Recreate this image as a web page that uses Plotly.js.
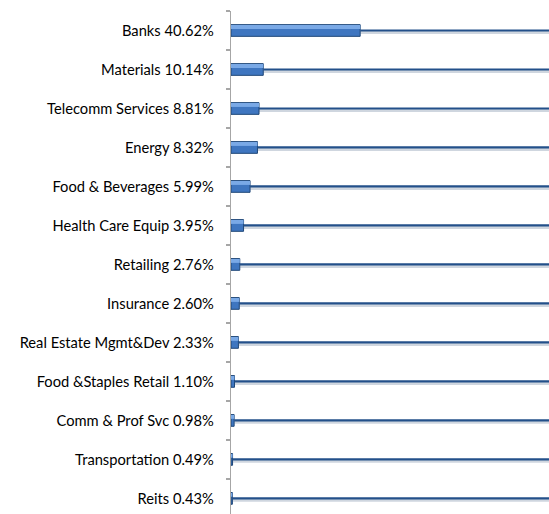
<!DOCTYPE html>
<html>
<head>
<meta charset="utf-8">
<script src="https://cdn.plot.ly/plotly-3.0.1.min.js"></script>
<style>html,body{margin:0;padding:0;background:#fff;}#chart{width:549px;height:514px;}</style>
</head>
<body>
<div id="chart"></div>
<script>
var sectors = ["Banks", "Materials", "Telecomm Services", "Energy", "Food & Beverages", "Health Care Equip", "Retailing", "Insurance", "Real Estate Mgmt&Dev", "Food &Staples Retail", "Comm & Prof Svc", "Transportation", "Reits"];
var weights = [40.62, 10.14, 8.81, 8.32, 5.99, 3.95, 2.76, 2.60, 2.33, 1.10, 0.98, 0.49, 0.43];
var scaleMax = 100;

var labels = sectors.map(function (s, i) { return s + " " + weights[i].toFixed(2) + "%"; });
var remainder = weights.map(function (w) { return scaleMax - w; });
var zeros = weights.map(function () { return 0; });

var traces = [
  {
    type: "bar", orientation: "h", y: labels, x: weights, width: 0.1, offset: 0.0,
    marker: { color: "rgba(0,0,0,0)", line: { width: 0 } },
    error_x: { type: "data", symmetric: false, array: remainder, arrayminus: zeros, thickness: 3, width: 0, color: "#cfd6df" },
    hoverinfo: "skip"
  },
  {
    type: "bar", orientation: "h", y: labels, x: weights, width: 0.3,
    marker: { color: "#3f76c0", line: { color: "#1e4677", width: 1 } },
    error_x: { type: "data", symmetric: false, array: remainder, arrayminus: zeros, thickness: 2.2, width: 0, color: "#23508a" },
    hoverinfo: "skip"
  },
  {
    type: "bar", orientation: "h", y: labels, x: weights, width: 0.1, offset: -0.14,
    marker: { color: "#7aa9e6", line: { width: 0 } },
    hoverinfo: "skip"
  }
];

var layout = {
  width: 549, height: 514,
  margin: { l: 231, r: 0, t: 11, b: 0, pad: 0 },
  paper_bgcolor: "#ffffff", plot_bgcolor: "#ffffff",
  showlegend: false, barmode: "overlay",
  font: { family: "Lato, 'Open Sans', sans-serif", size: 14.7, color: "#000000" },
  xaxis: { range: [0, scaleMax], visible: false, fixedrange: true },
  yaxis: {
    type: "category", range: [12.4, -0.5],
    showline: true, linecolor: "#a6a6a6", linewidth: 1.3,
    ticks: "outside", ticklen: 4, tickcolor: "#a6a6a6", tickwidth: 1.3,
    tickson: "boundaries", showgrid: false, zeroline: false,
    ticklabelstandoff: 13,
    tickfont: { family: "Lato, 'Open Sans', sans-serif", size: 14.7, color: "#000000" }
  }
};

Plotly.newPlot("chart", traces, layout, { displayModeBar: false, staticPlot: true });
</script>
</body>
</html>
